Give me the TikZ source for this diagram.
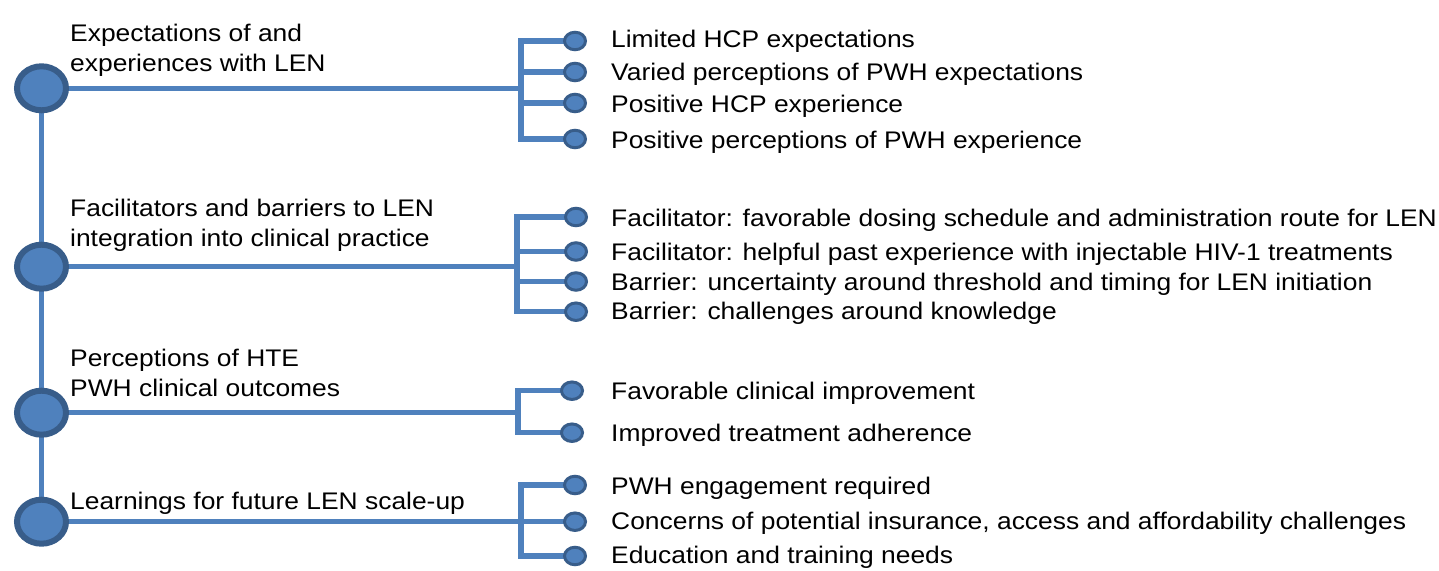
\documentclass[tikz,border=0pt]{standalone}
\usepackage{fontspec}
\setmainfont{Liberation Sans}[FakeStretch=1.1]
\usetikzlibrary{shapes.geometric,backgrounds}
\definecolor{dotfill}{HTML}{4F81BD}
\definecolor{dotedge}{HTML}{385D8A}
\definecolor{linecol}{HTML}{4F81BD}
\begin{document}
\begin{tikzpicture}[x=1pt,y=-1pt,
  bigdot/.style={ellipse,draw=dotedge,fill=dotfill,line width=6pt,minimum width=49pt,minimum height=44pt,inner sep=0pt},
  smalldot/.style={ellipse,draw=dotedge,fill=dotfill,line width=3pt,minimum width=21pt,minimum height=17.5pt,inner sep=0pt},
  conn/.style={draw=linecol,line width=5.5pt,line join=miter,line cap=butt},
  lbl/.style={anchor=base west,inner sep=0pt,align=left,font=\fontsize{24}{30}\selectfont},
  item/.style={anchor=base west,inner sep=0pt,font=\fontsize{24}{30}\selectfont}]
\useasboundingbox (0,0) rectangle (1439,570);

% main circles
\node[bigdot] (m1) at (41.5,88.3) {};
\node[bigdot] (m2) at (41.5,266.7) {};
\node[bigdot] (m3) at (41.5,412.7) {};
\node[bigdot] (m4) at (41.5,521.7) {};

% bracket junctions
\coordinate (b1) at (521,88.3);
\coordinate (b2) at (517,266.7);
\coordinate (b3) at (518,412.7);
\coordinate (b4) at (521,521.7);

% small circles
\node[smalldot] (s11) at (575,41) {};
\node[smalldot] (s12) at (575,72) {};
\node[smalldot] (s13) at (575,103) {};
\node[smalldot] (s14) at (575,139) {};
\node[smalldot] (s21) at (576,217) {};
\node[smalldot] (s22) at (576,251.5) {};
\node[smalldot] (s23) at (576,281.5) {};
\node[smalldot] (s24) at (576,311.7) {};
\node[smalldot] (s31) at (572,390.7) {};
\node[smalldot] (s32) at (572,432.7) {};
\node[smalldot] (s41) at (575,485) {};
\node[smalldot] (s42) at (575,521.7) {};
\node[smalldot] (s43) at (575,556) {};

\begin{scope}[on background layer]
\draw[conn] (m1.center) -- (m4.center);
\draw[conn] (m1.center) -- (b1);
\draw[conn] (m2.center) -- (b2);
\draw[conn] (m3.center) -- (b3);
\draw[conn] (m4.center) -- (b4);
% bracket 1
\draw[conn] (s11.center) -| (b1) |- (s14.center);
\draw[conn] (b1 |- s12) -- (s12.center);
\draw[conn] (b1 |- s13) -- (s13.center);
% bracket 2
\draw[conn] (s21.center) -| (b2) |- (s24.center);
\draw[conn] (b2 |- s22) -- (s22.center);
\draw[conn] (b2 |- s23) -- (s23.center);
% bracket 3
\draw[conn] (s31.center) -| (b3) |- (s32.center);
% bracket 4
\draw[conn] (s41.center) -| (b4) |- (s43.center);
\draw[conn] (b4) -- (s42.center);
\end{scope}

% left labels (base anchor = last line)
\node[lbl] (l1) at (70,71) {Expectations of and\\experiences with LEN};
\node[lbl] (l2) at (70,246.7) {Facilitators and barriers to LEN\\integration into clinical practice};
\node[lbl] (l3) at (70,396.7) {Perceptions of HTE\\PWH clinical outcomes};
\node[lbl] (l4) at (70,509) {Learnings for future LEN scale-up};

% items
\node[item] (t11) at (611,47.5) {Limited HCP expectations};
\node[item] (t12) at (611,80) {Varied perceptions of PWH expectations};
\node[item] (t13) at (611,112.5) {Positive HCP experience};
\node[item] (t14) at (611,148) {Positive perceptions of PWH experience};
\node[item] (t21) at (611,226) {Facilitator: favorable dosing schedule and administration route for LEN};
\node[item] (t22) at (611,260) {Facilitator: helpful past experience with injectable HIV-1 treatments};
\node[item] (t23) at (611,290) {Barrier: uncertainty around threshold and timing for LEN initiation};
\node[item] (t24) at (611,319) {Barrier: challenges around knowledge};
\node[item] (t31) at (611,399.5) {Favorable clinical improvement};
\node[item] (t32) at (611,441.5) {Improved treatment adherence};
\node[item] (t41) at (611,494) {PWH engagement required};
\node[item] (t42) at (611,529.5) {Concerns of potential insurance, access and affordability challenges};
\node[item] (t43) at (611,563) {Education and training needs};
\end{tikzpicture}
\end{document}
